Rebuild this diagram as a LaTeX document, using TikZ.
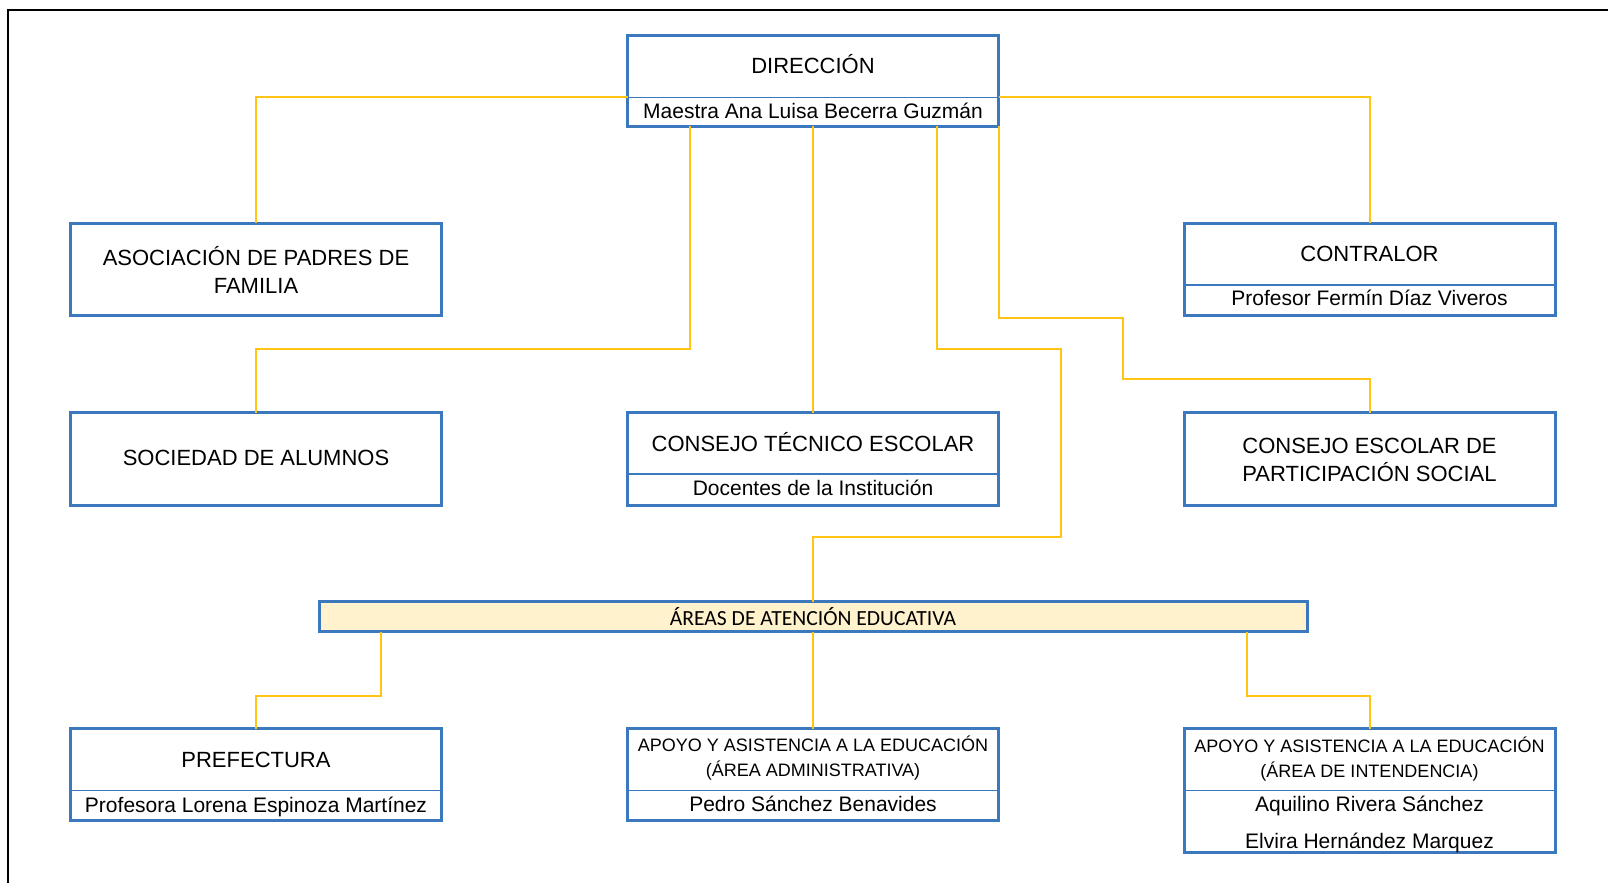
\documentclass[tikz,border=0pt]{standalone}
\usepackage{fontspec}
\setmainfont{Liberation Sans}
\newfontfamily\areasfont{Carlito}
\definecolor{boxblue}{RGB}{60,120,190}
\definecolor{linkyellow}{RGB}{255,196,20}
\definecolor{areafill}{RGB}{255,242,204}

\begin{document}
\begin{tikzpicture}[x=0.5pt, y=-0.5pt,
    box/.style={draw=boxblue, line width=1.5pt, inner sep=0pt, outer sep=0pt,
        minimum width=185.5pt, minimum height=46pt},
    head/.style={anchor=base, inner sep=0pt, align=center, font=\fontsize{11}{14}\selectfont},
    headsmall/.style={head, font=\fontsize{9}{12.5}\selectfont},
    who/.style={anchor=base, inner sep=0pt, align=center, font=\fontsize{10.5}{18.5}\selectfont},
    split/.style={draw=boxblue, line width=0.75pt},
    link/.style={draw=linkyellow, line width=1pt}]
    \useasboundingbox (0, 0) rectangle (1608, 883);
    \draw[line width=1.3pt] (8, 900) -- (8, 10) -- (1630, 10);

    \node (dir) [box, minimum height=45.5pt] at (813, 81) {};
    \node (dirT) [head] at (813, 74) {DIRECCIÓN};
    \node (dirN) [who] at (813, 119) {Maestra Ana Luisa Becerra Guzmán};
    \coordinate (dirsplit) at (813, 97.5);

    \node (asoc) [box] at (256, 269.5) {};
    \node (asocT) [head] at (256, 293) {ASOCIACIÓN DE PADRES DE\\FAMILIA};

    \node (contr) [box] at (1369.5, 269.5) {};
    \node (contrT) [head] at (1369.5, 262) {CONTRALOR};
    \node (contrN) [who] at (1369.5, 306) {Profesor Fermín Díaz Viveros};

    \node (soc) [box, minimum height=46.5pt] at (256, 459) {};
    \node (socT) [head] at (256, 465) {SOCIEDAD DE ALUMNOS};

    \node (ctec) [box, minimum height=46.5pt] at (813, 459) {};
    \node (ctecT) [head] at (813, 451) {CONSEJO TÉCNICO ESCOLAR};
    \node (ctecN) [who] at (813, 495) {Docentes de la Institución};

    \node (cesc) [box, minimum height=46.5pt] at (1369.5, 459) {};
    \node (cescT) [head] at (1369.5, 481) {CONSEJO ESCOLAR DE\\PARTICIPACIÓN SOCIAL};

    \node (areas) [box, fill=areafill, minimum width=494pt, minimum height=15pt] at (813, 616.5) {};
    \node (areasT) [anchor=base, inner sep=0pt, font=\areasfont\fontsize{10.8}{13}\selectfont] at (813, 625) {ÁREAS DE ATENCIÓN EDUCATIVA};

    \node (pref) [box] at (256, 774.5) {};
    \node (prefT) [head] at (256, 767) {PREFECTURA};
    \node (prefN) [who] at (256, 812) {Profesora Lorena Espinoza Martínez};

    \node (apadm) [box] at (813, 774.5) {};
    \node (apadmT) [headsmall] at (813, 776) {APOYO Y ASISTENCIA A LA EDUCACIÓN\\(ÁREA ADMINISTRATIVA)};
    \node (apadmN) [who] at (813, 811) {Pedro Sánchez Benavides};

    \node (apint) [box, minimum height=62pt] at (1369.5, 790.5) {};
    \node (apintT) [headsmall] at (1369.5, 777) {APOYO Y ASISTENCIA A LA EDUCACIÓN\\(ÁREA DE INTENDENCIA)};
    \node (apintN) [who] at (1369.5, 848) {Aquilino Rivera Sánchez\\Elvira Hernández Marquez};

    \draw[split] (dir.west |- dirsplit) -- (dir.east |- dirsplit);
    \draw[split] (contr.west |- 0, 285) -- (contr.east |- 0, 285);
    \draw[split] (ctec.west |- 0, 474) -- (ctec.east |- 0, 474);
    \draw[split] (pref.west |- 0, 790.5) -- (pref.east |- 0, 790.5);
    \draw[split] (apadm.west |- 0, 790.5) -- (apadm.east |- 0, 790.5);
    \draw[split] (apint.west |- 0, 790.5) -- (apint.east |- 0, 790.5);

    \draw[link] (dir.west |- dirsplit) -| (asoc.north);
    \draw[link] (dir.east |- dirsplit) -| (contr.north);
    \draw[link] (dir.south -| 690, 0) -- (690, 349) -| (soc.north);
    \draw[link] (dir.south) -- (ctec.north);
    \draw[link] (dir.south -| 937, 0) |- (1061, 349) |- (813, 537) -| (areas.north);
    \draw[link] (dir.south east) |- (1123, 318) -- (1123, 379) -| (cesc.north);
    \draw[link] (areas.south -| 381, 0) -- (381, 696) -| (pref.north);
    \draw[link] (areas.south) -- (apadm.north);
    \draw[link] (areas.south -| 1247, 0) -- (1247, 696) -| (apint.north);
\end{tikzpicture}
\end{document}
